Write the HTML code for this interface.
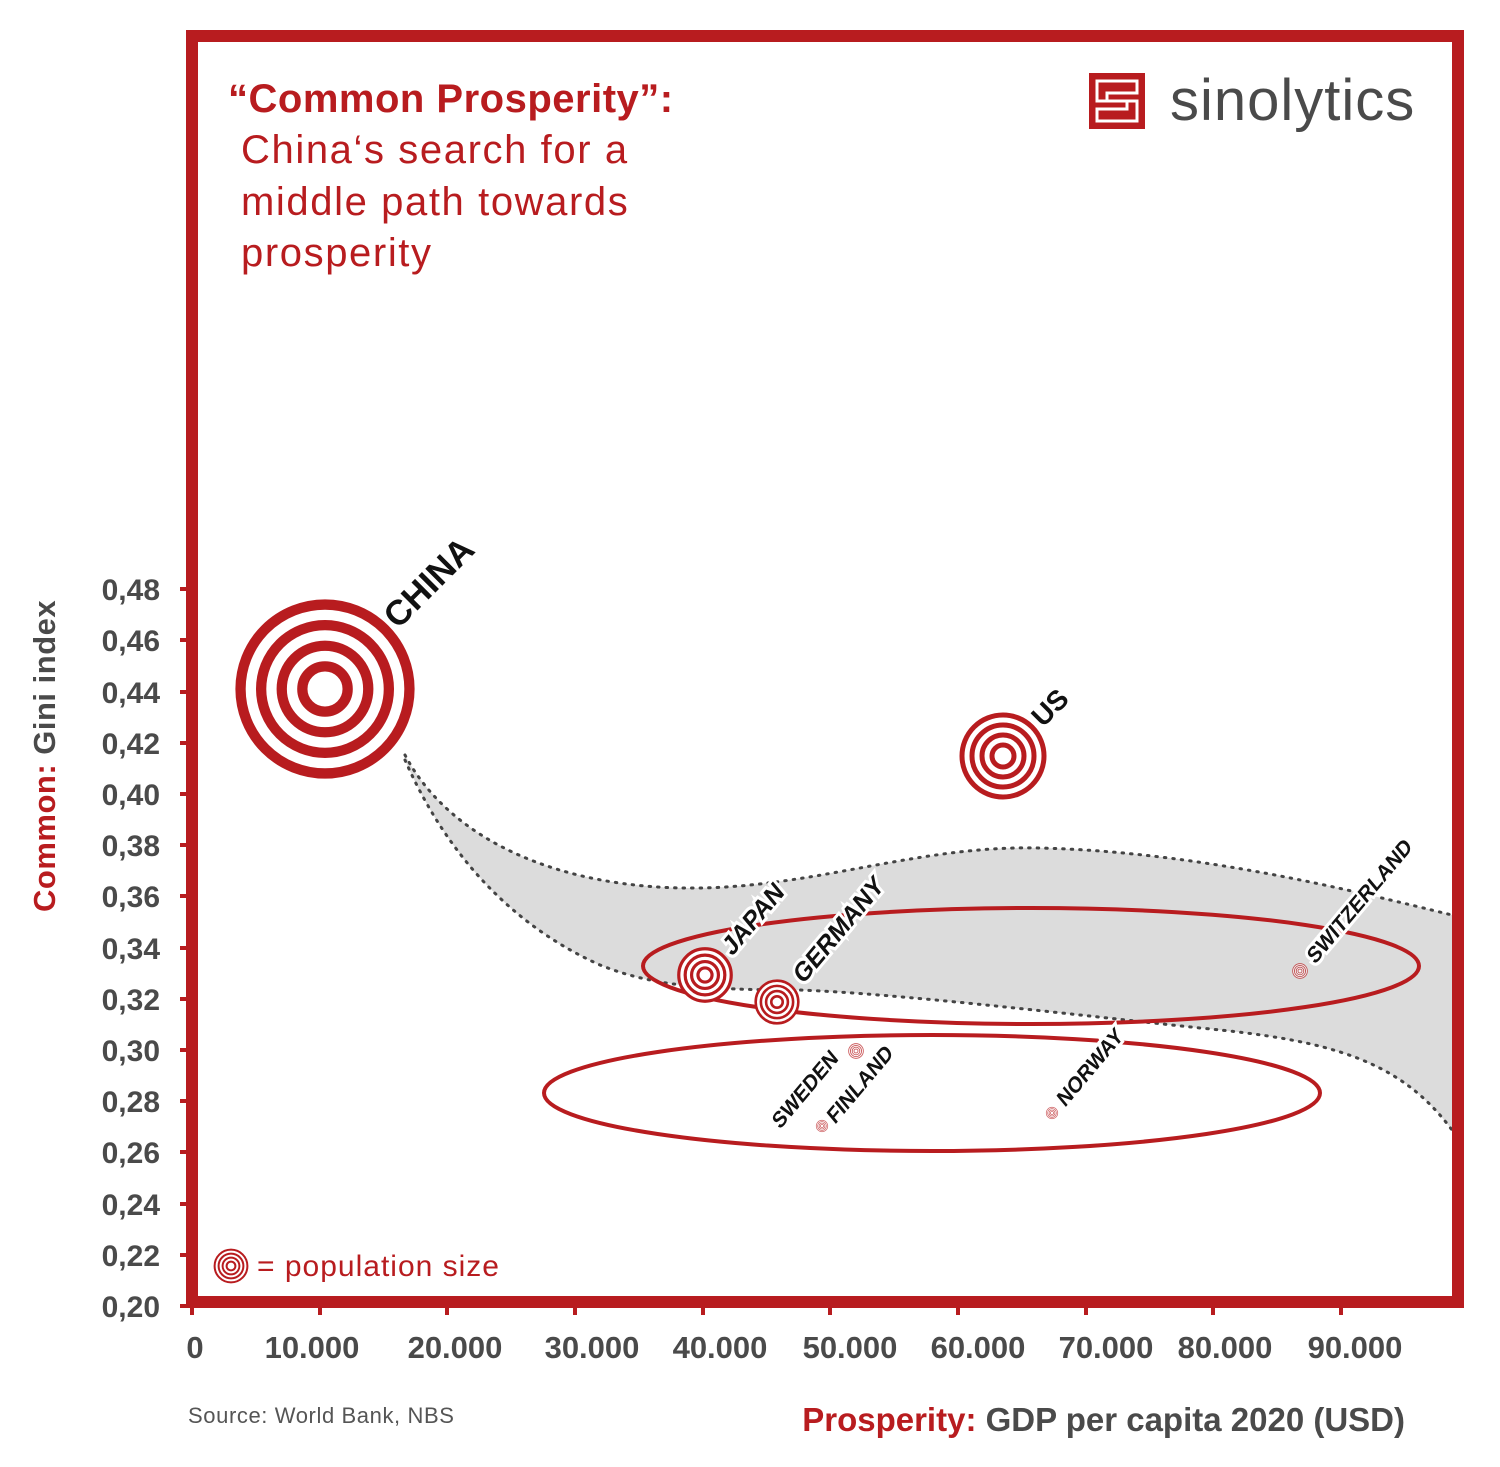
<!DOCTYPE html>
<html><head><meta charset="utf-8"><style>
html,body{margin:0;padding:0;background:#fff;}
svg{display:block}
</style></head><body>
<svg width="1500" height="1467" viewBox="0 0 1500 1467" xmlns="http://www.w3.org/2000/svg" font-family="Liberation Sans, sans-serif">
<defs>
<g id="rings">
<circle r="82" fill="#fff" stroke="#b81c1f" stroke-width="10"/>
<circle r="62" fill="none" stroke="#b81c1f" stroke-width="10"/>
<circle r="42" fill="none" stroke="#b81c1f" stroke-width="10"/>
<circle r="22" fill="none" stroke="#b81c1f" stroke-width="10"/>
</g>
</defs>
<!-- band -->
<path d="M405,755 C450,840 560,890 700,888 C820,886 920,845 1040,848 C1200,852 1350,890 1452,915 L1452,1130 C1400,1060 1330,1040 1200,1028 C1050,1012 900,994 800,990 C700,990 650,985 600,965 C500,920 440,840 405,760 Z" fill="#dcdcdc"/>
<path d="M405,755 C450,840 560,890 700,888 C820,886 920,845 1040,848 C1200,852 1350,890 1452,915" fill="none" stroke="#444" stroke-width="3" stroke-dasharray="1.5 7" stroke-linecap="round"/>
<path d="M405,760 C440,840 500,920 600,965 C650,985 700,990 800,990 C900,994 1050,1012 1200,1028 C1330,1040 1400,1060 1452,1130" fill="none" stroke="#444" stroke-width="3" stroke-dasharray="1.5 7" stroke-linecap="round"/>
<!-- ellipses -->
<ellipse cx="1031" cy="966" rx="388" ry="58" fill="none" stroke="#b81c1f" stroke-width="4"/>
<ellipse cx="932" cy="1093" rx="388" ry="58" fill="none" stroke="#b81c1f" stroke-width="4"/>
<!-- frame -->
<rect x="192" y="36" width="1266" height="1266" fill="none" stroke="#b81c1f" stroke-width="12"/>
<!-- ticks -->
<g stroke="#b81c1f" stroke-width="4">
<line x1="180" y1="589" x2="188" y2="589"/><line x1="180" y1="640" x2="188" y2="640"/><line x1="180" y1="692" x2="188" y2="692"/><line x1="180" y1="743" x2="188" y2="743"/><line x1="180" y1="794" x2="188" y2="794"/><line x1="180" y1="845" x2="188" y2="845"/><line x1="180" y1="896" x2="188" y2="896"/><line x1="180" y1="948" x2="188" y2="948"/><line x1="180" y1="999" x2="188" y2="999"/><line x1="180" y1="1050" x2="188" y2="1050"/><line x1="180" y1="1101" x2="188" y2="1101"/><line x1="180" y1="1152" x2="188" y2="1152"/><line x1="180" y1="1204" x2="188" y2="1204"/><line x1="180" y1="1255" x2="188" y2="1255"/><line x1="180" y1="1306" x2="188" y2="1306"/>
<line x1="192" y1="1306" x2="192" y2="1315"/><line x1="320" y1="1306" x2="320" y2="1315"/><line x1="447" y1="1306" x2="447" y2="1315"/><line x1="575" y1="1306" x2="575" y2="1315"/><line x1="703" y1="1306" x2="703" y2="1315"/><line x1="830" y1="1306" x2="830" y2="1315"/><line x1="958" y1="1306" x2="958" y2="1315"/><line x1="1086" y1="1306" x2="1086" y2="1315"/><line x1="1213" y1="1306" x2="1213" y2="1315"/><line x1="1341" y1="1306" x2="1341" y2="1315"/>
</g>
<g font-size="30" font-weight="bold" fill="#4a4a4a" text-anchor="end">
<text x="160" y="600">0,48</text><text x="160" y="651">0,46</text><text x="160" y="703">0,44</text><text x="160" y="754">0,42</text><text x="160" y="805">0,40</text><text x="160" y="856">0,38</text><text x="160" y="907">0,36</text><text x="160" y="959">0,34</text><text x="160" y="1010">0,32</text><text x="160" y="1061">0,30</text><text x="160" y="1112">0,28</text><text x="160" y="1163">0,26</text><text x="160" y="1215">0,24</text><text x="160" y="1266">0,22</text><text x="160" y="1317">0,20</text>
</g>
<g font-size="31" font-weight="bold" fill="#4a4a4a" text-anchor="middle">
<text x="195" y="1358">0</text><text x="312" y="1358">10.000</text><text x="455" y="1358">20.000</text><text x="592" y="1358">30.000</text><text x="720" y="1358">40.000</text><text x="850" y="1358">50.000</text><text x="978" y="1358">60.000</text><text x="1106" y="1358">70.000</text><text x="1225" y="1358">80.000</text><text x="1355" y="1358">90.000</text>
</g>
<text transform="translate(55,912) rotate(-90)" font-size="31" font-weight="bold" fill="#4a4a4a" letter-spacing="0.5"><tspan fill="#b81c1f">Common:</tspan> Gini index</text>
<text x="1405" y="1431" text-anchor="end" font-size="33" font-weight="bold" fill="#4a4a4a"><tspan fill="#b81c1f">Prosperity:</tspan> GDP per capita 2020 (USD)</text>
<text x="188" y="1423" font-size="22" fill="#555" letter-spacing="0.6">Source: World Bank, NBS</text>
<!-- title -->
<text x="228" y="112" font-size="40" font-weight="bold" fill="#b81c1f" letter-spacing="0.5">“Common Prosperity”:</text>
<g font-size="40" fill="#b81c1f" letter-spacing="1.6"><text x="241" y="163">China‘s search for a</text><text x="241" y="215">middle path towards</text><text x="241" y="266">prosperity</text></g>
<!-- logo -->
<rect x="1089" y="73" width="56" height="56" fill="#b81c1f"/>
<path d="M1097,81 h40 v12 h-30 v8 h30 v20 h-40 v-12 h30 v-8 h-30 z" fill="none" stroke="#fff" stroke-width="3"/>
<text x="1170" y="120" font-size="58" fill="#4a4a4a" letter-spacing="1">sinolytics</text>
<!-- legend -->
<g transform="translate(231,1266) scale(0.2)"><use href="#rings"/></g>
<text x="257" y="1276" font-size="30" fill="#b81c1f" letter-spacing="1">= population size</text>
<!-- points -->
<g transform="translate(325,689) scale(1.03)"><use href="#rings"/></g>
<g transform="translate(1003,756) scale(0.5)"><use href="#rings"/></g>
<g transform="translate(705,975) scale(0.32)"><use href="#rings"/></g>
<g transform="translate(777,1002) scale(0.26)"><use href="#rings"/></g>
<g transform="translate(1300,971) scale(0.09)" opacity="0.7"><use href="#rings"/></g>
<g transform="translate(856,1051) scale(0.09)" opacity="0.7"><use href="#rings"/></g>
<g transform="translate(822,1126) scale(0.07)" opacity="0.7"><use href="#rings"/></g>
<g transform="translate(1052,1113) scale(0.07)" opacity="0.7"><use href="#rings"/></g>
<!-- labels -->
<g font-weight="bold" fill="#111" stroke="#fff" stroke-width="6" paint-order="stroke">
<text transform="translate(398,630) rotate(-45)" font-size="35">CHINA</text>
<text transform="translate(1043,728) rotate(-45)" font-size="28">US</text>
<text transform="translate(732,957) rotate(-50) skewX(-10)" font-size="25">JAPAN</text>
<text transform="translate(803,985) rotate(-50) skewX(-10)" font-size="25">GERMANY</text>
<text transform="translate(1315,965) rotate(-50) skewX(-10)" font-size="21">SWITZERLAND</text>
<text transform="translate(780,1130) rotate(-50) skewX(-10)" font-size="21">SWEDEN</text>
<text transform="translate(835,1125) rotate(-50) skewX(-10)" font-size="21">FINLAND</text>
<text transform="translate(1065,1108) rotate(-50) skewX(-10)" font-size="21">NORWAY</text>
</g>
</svg>
</body></html>
